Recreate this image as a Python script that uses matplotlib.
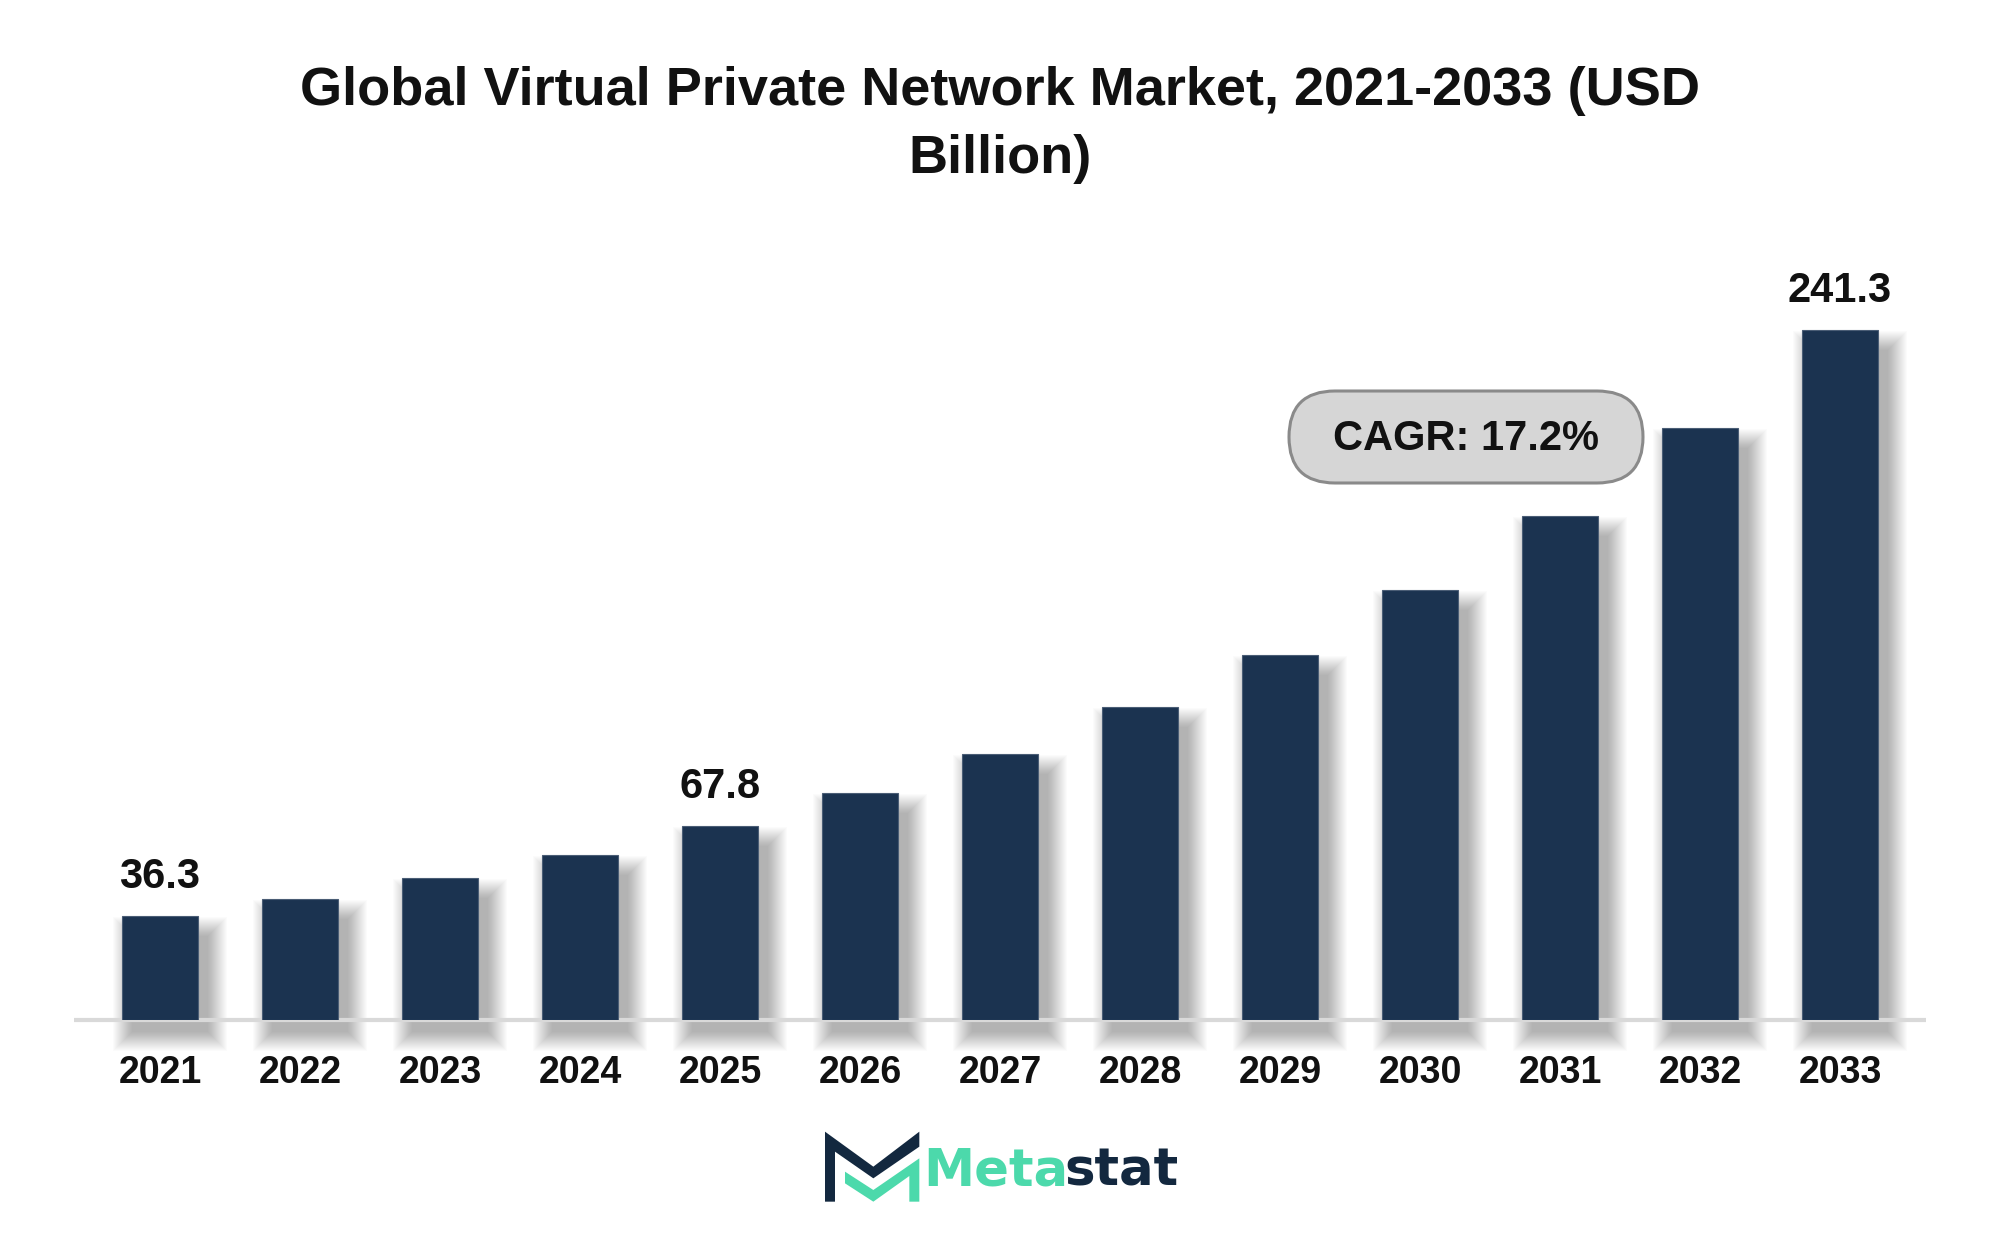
import matplotlib.pyplot as plt
from matplotlib.patches import FancyBboxPatch, Polygon
from matplotlib.transforms import IdentityTransform

plt.rcParams['font.family'] = ['Liberation Sans', 'DejaVu Sans']

years = ['2021', '2022', '2023', '2024', '2025', '2026', '2027',
         '2028', '2029', '2030', '2031', '2032', '2033']
values = [36.3, 42.4, 49.5, 57.6, 67.8, 79.4, 93.2,
          109.6, 127.6, 150.3, 176.3, 207.2, 241.3]
labelled = ['2021', '2025', '2033']

title = "Global Virtual Private Network Market, 2021-2033 (USD\nBillion)"
cagr_text = "CAGR: 17.2%"

W, H = 2000, 1240
fig = plt.figure(figsize=(W / 100, H / 100), dpi=100)
fig.patch.set_facecolor('white')

# axes placed in pixel terms
ax = fig.add_axes([74 / W, 220 / H, 1852 / W, 800 / H])
ax.set_xlim(-0.614, 12.614)
ax.set_ylim(0, 279.8)

x = list(range(len(years)))
bar_w = 0.543
px_x = 1 / 140.0      # data units per pixel (x)
px_y = 279.8 / 800.0  # data units per pixel (y)

# soft drop shadow, mostly right and below
for k in range(20):
    grow = k * 1.0
    ax.bar([i + 10 * px_x for i in x],
           [v + 2 * grow * px_y - 8 * px_y for v in values],
           width=bar_w + 2 * grow * px_x,
           bottom=-(12 + grow) * px_y,
           color='#000000', alpha=0.014, linewidth=0, zorder=1, clip_on=False)

ax.bar(x, values, width=bar_w, color='#1b3350', edgecolor='#4a5d75',
       linewidth=0.8, zorder=3)

for i, (y, v) in enumerate(zip(years, values)):
    if y in labelled:
        ax.text(i, v + 28 * px_y, f"{v:.1f}", ha='center', va='baseline',
                fontsize=30, fontweight='bold', color='#111111', zorder=4)

# baseline
ax.axhline(0, color='#d9d9d9', linewidth=3, zorder=2, clip_on=False,
           solid_capstyle='butt')

ax.set_xticks(x)
ax.set_xticklabels(years, fontsize=27, fontweight='bold', color='#111111')
ax.tick_params(axis='x', length=0, pad=25)
ax.set_yticks([])
for s in ax.spines.values():
    s.set_visible(False)

# title
fig.text(0.5, 1 - 125 / H, title, ha='center', va='center', fontsize=39,
         fontweight='bold', color='#111111', linespacing=1.48)

# CAGR pill (pixel coords, origin bottom-left)
bx0, bx1 = 1289, 1643
by0, by1 = H - 483, H - 391
pill = FancyBboxPatch((bx0 + 46, by0 + 46), bx1 - bx0 - 92, by1 - by0 - 92,
                      boxstyle="round,pad=46,rounding_size=46",
                      transform=IdentityTransform(), facecolor='#d6d6d6',
                      edgecolor='#8a8a8a', linewidth=2.2, zorder=5)
fig.patches.append(pill)
fig.text(1466 / W, 1 - 439 / H, cagr_text, ha='center', va='center',
         fontsize=30, fontweight='bold', color='#111111', zorder=6)

# logo icon
def zpt(zx, zy):
    return (780 + zx / 3.0, H - (1100 + zy / 3.0))

navy_pts = [zpt(*p) for p in [(135, 95), (280, 200), (418, 95), (418, 140),
                              (280, 235), (165, 155), (165, 305), (135, 305)]]
green_pts = [zpt(*p) for p in [(195, 215), (280, 270), (418, 175), (418, 305),
                               (388, 305), (388, 228), (280, 305), (195, 250)]]
fig.patches.append(Polygon(navy_pts, closed=True, transform=IdentityTransform(),
                           facecolor='#13283f', edgecolor='none'))
fig.patches.append(Polygon(green_pts, closed=True, transform=IdentityTransform(),
                           facecolor='#4cd9ab', edgecolor='none'))

fig.text(1068 / W, 1 - 1185 / H, "Meta", ha='right', va='baseline',
         fontsize=37, fontweight='bold', color='#4cd9ab', family='DejaVu Sans')
fig.text(1064 / W, 1 - 1185 / H, "stat", ha='left', va='baseline',
         fontsize=37, fontweight='bold', color='#13283f', family='DejaVu Sans')

fig.savefig('out.png', dpi=100, facecolor='white')
